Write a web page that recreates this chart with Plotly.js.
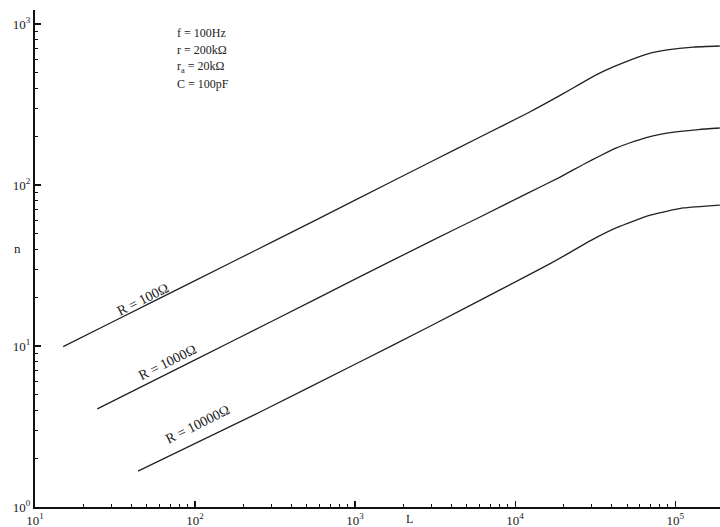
<!DOCTYPE html>
<html>
<head>
<meta charset="utf-8">
<script src="https://cdn.plot.ly/plotly-3.0.1.min.js"></script>
<style>html,body{margin:0;padding:0;background:#fff;}#chart{width:720px;height:527px;}</style>
</head>
<body>
<div id="chart"></div>
<script>
// Data (L on x, n on y)
const L_R100   = [15, 30, 100, 300, 1000, 3000, 6040, 12000, 19100, 25500, 33000, 41000, 52300, 66800, 89100, 129600, 190000];
const n_R100   = [9.9, 14, 25.5, 44, 80.5, 140, 198.7, 280, 360, 425, 490, 541, 597, 651, 690, 719, 730];
const L_R1000  = [24.5, 100, 300, 1000, 3000, 6040, 12000, 19100, 27000, 34000, 43000, 52300, 66000, 80500, 107500, 140000, 190000];
const n_R1000  = [4.07, 8.2, 14.2, 26, 45, 63.3, 89, 112, 135, 152, 170, 183, 197, 206, 215, 221, 226];
const L_R10000 = [44, 255, 1000, 3000, 8050, 16550, 21100, 29400, 43400, 69800, 112200, 190000];
const n_R10000 = [1.67, 3.89, 7.7, 13.4, 22.3, 32.5, 37.2, 45, 54.5, 65, 72, 75.1];
const seriesNames = ["R = 100Ω", "R = 1000Ω", "R = 10000Ω"];

const xTickVals = [10, 100, 1000, 10000, 100000];
const xTickText = ["10<sup>1</sup>", "10<sup>2</sup>", "10<sup>3</sup>", "10<sup>4</sup>", "10<sup>5</sup>"];
const yTickVals = [1, 10, 100, 1000];
const yTickText = ["10<sup>0</sup>", "10<sup>1</sup>", "10<sup>2</sup>", "10<sup>3</sup>"];
const paramLines = ["f = 100Hz", "r = 200kΩ", "r<sub>a</sub> = 20kΩ", "C = 100pF"];

function minorVals(lo, hi) {
  const v = [];
  for (let e = lo; e < hi; e++) for (let k = 2; k <= 9; k++) v.push(k * Math.pow(10, e));
  return v;
}

const lineStyle = {color: '#222', width: 1.3, shape: 'spline', smoothing: 0.5};
const traces = [
  {x: L_R100, y: n_R100, name: seriesNames[0]},
  {x: L_R1000, y: n_R1000, name: seriesNames[1]},
  {x: L_R10000, y: n_R10000, name: seriesNames[2]}
].map(t => Object.assign(t, {type: 'scatter', mode: 'lines', line: lineStyle, hoverinfo: 'skip'}));

const serif = 'Liberation Serif, DejaVu Serif, serif';
const labelPos = [[0.112, 0.418], [0.143, 0.244], [0.183, 0.115]];
const annotations = seriesNames.map((s, i) => ({
  text: s, xref: 'paper', yref: 'paper', x: labelPos[i][0], y: labelPos[i][1],
  showarrow: false, textangle: -26.6, font: {family: serif, size: 14, color: '#222'}
}));
paramLines.forEach((t, i) => annotations.push({
  text: t, xref: 'paper', yref: 'paper', x: 0.205, y: 0.954 - i * 0.0345,
  xanchor: 'left', yanchor: 'middle', showarrow: false,
  font: {family: serif, size: 12, color: '#222'}
}));
annotations.push({text: 'n', xref: 'paper', yref: 'paper', x: -0.034, y: 0.521,
  showarrow: false, font: {family: serif, size: 13, color: '#222'}});
annotations.push({text: 'L', xref: 'paper', yref: 'paper', x: 0.547, y: -0.024,
  showarrow: false, yanchor: 'middle', font: {family: serif, size: 12, color: '#222'}});

const layout = {
  width: 720, height: 527,
  margin: {l: 35, r: 0, t: 10, b: 20},
  paper_bgcolor: '#fff', plot_bgcolor: '#fff',
  showlegend: false,
  font: {family: serif, size: 12, color: '#222'},
  xaxis: {
    type: 'log', range: [1, 5.28], showgrid: false, zeroline: false,
    showline: true, linecolor: '#111', linewidth: 2,
    ticks: 'inside', ticklen: 6, tickwidth: 1.2, tickcolor: '#111',
    tickvals: xTickVals, ticktext: xTickText, ticklabelstandoff: 0,
    minor: {tickvals: minorVals(1, 6), ticks: 'inside', ticklen: 3, tickwidth: 1, tickcolor: '#111', showgrid: false},
    tickfont: {family: serif, size: 13, color: '#222'}
  },
  yaxis: {
    type: 'log', range: [0, 3.087], showgrid: false, zeroline: false,
    showline: true, linecolor: '#111', linewidth: 2,
    ticks: 'inside', ticklen: 6, tickwidth: 1.2, tickcolor: '#111',
    tickvals: yTickVals, ticktext: yTickText,
    minor: {tickvals: minorVals(0, 4), ticks: 'inside', ticklen: 3, tickwidth: 1, tickcolor: '#111', showgrid: false},
    tickfont: {family: serif, size: 13, color: '#222'}
  },
  annotations: annotations
};

Plotly.newPlot('chart', traces, layout, {staticPlot: true, displayModeBar: false});
</script>
</body>
</html>
